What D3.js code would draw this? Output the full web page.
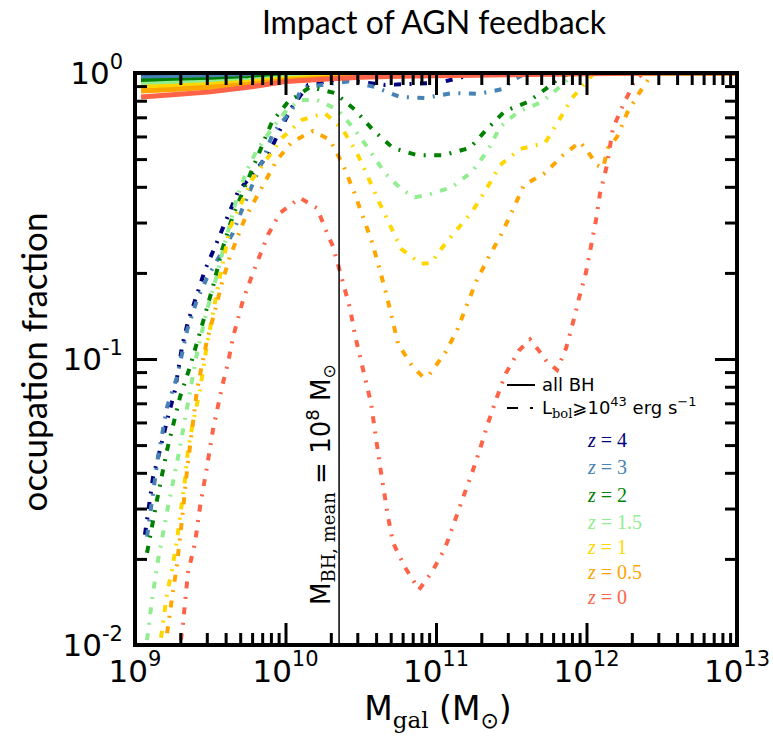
<!DOCTYPE html>
<html>
<head>
<meta charset="utf-8">
<script src="https://cdn.jsdelivr.net/npm/d3@7"></script>
<style>
  body { margin: 0; background: #fff; }
</style>
</head>
<body>
<div id="chart"></div>
<script>
// ---- data (log10 galaxy mass, occupation fraction) ----
const redshifts = ["4", "3", "2", "1.5", "1", "0.5", "0"];
const seriesColors = ["navy", "steelblue", "green", "lightgreen", "gold", "orange", "tomato"];

// all BH (solid lines)
const allMassLog = [9.04, 9.25, 9.5, 9.75, 10.0, 10.25, 10.5, 10.75, 11.0, 11.5, 12.0, 12.5, 13.0];
const allZ4  = [0.977, 0.979, 0.982, 0.984, 0.989, 0.991, 0.993, 0.995, 0.998, 1, 1, 1, 1];
const allZ3  = [0.962, 0.964, 0.968, 0.973, 0.982, 0.986, 0.991, 0.993, 0.995, 0.998, 1, 1, 1];
const allZ2  = [0.938, 0.942, 0.948, 0.957, 0.973, 0.982, 0.986, 0.991, 0.993, 0.995, 0.998, 1, 1];
const allZ15 = [0.912, 0.920, 0.929, 0.942, 0.964, 0.975, 0.982, 0.989, 0.991, 0.995, 0.998, 1, 1];
const allZ1  = [0.891, 0.899, 0.912, 0.929, 0.955, 0.968, 0.977, 0.984, 0.989, 0.993, 0.998, 1, 1];
const allZ05 = [0.865, 0.875, 0.891, 0.912, 0.944, 0.959, 0.973, 0.979, 0.984, 0.991, 0.995, 1, 1];
const allZ0  = [0.824, 0.839, 0.859, 0.891, 0.933, 0.951, 0.966, 0.975, 0.979, 0.986, 0.993, 1, 1];

// Lbol >= 1e43 erg/s (dash-dot lines)
const agnMassZ4 = [9.066, 9.120, 9.166, 9.219, 9.266, 9.312, 9.352, 9.412, 9.465, 9.532, 9.684, 9.884, 9.963, 10.043, 10.150, 10.329, 10.495, 10.661, 10.841, 11.013, 11.159, 11.259];
const agnFracZ4 = [0.0243, 0.0386, 0.0481, 0.0627, 0.0780, 0.110, 0.135, 0.168, 0.205, 0.247, 0.384, 0.516, 0.632, 0.760, 0.908, 0.946, 0.931, 0.908, 0.916, 0.923, 0.962, 1.0];

const agnMassZ3 = [9.080, 9.153, 9.213, 9.279, 9.346, 9.412, 9.478, 9.651, 9.718, 9.850, 9.917, 10.043, 10.096, 10.143, 10.429, 10.595, 10.761, 10.927, 11.106, 11.279, 11.445, 11.512, 11.6];
const agnFracZ3 = [0.0239, 0.0454, 0.0679, 0.0865, 0.126, 0.161, 0.192, 0.276, 0.340, 0.497, 0.617, 0.743, 0.859, 0.893, 0.937, 0.893, 0.824, 0.818, 0.851, 0.845, 0.879, 0.946, 1.0];

const agnMassZ2 = [9.080, 9.146, 9.213, 9.299, 9.365, 9.452, 9.518, 9.578, 9.651, 9.777, 9.910, 10.017, 10.163, 10.329, 10.462, 10.581, 10.714, 10.874, 11.047, 11.226, 11.339, 11.458, 11.611, 11.757, 11.824, 11.9];
const agnFracZ2 = [0.0210, 0.0321, 0.0481, 0.0736, 0.0938, 0.135, 0.179, 0.240, 0.318, 0.458, 0.675, 0.792, 0.893, 0.851, 0.743, 0.632, 0.547, 0.516, 0.516, 0.547, 0.637, 0.736, 0.792, 0.902, 0.968, 1.0];

const agnMassZ15 = [9.080, 9.113, 9.153, 9.219, 9.286, 9.352, 9.412, 9.478, 9.532, 9.585, 9.678, 9.744, 9.811, 9.917, 10.010, 10.096, 10.209, 10.349, 10.462, 10.548, 10.661, 10.774, 10.860, 10.940, 11.106, 11.239, 11.346, 11.425, 11.545, 11.704, 11.837, 11.92];
const agnFracZ15 = [0.0104, 0.0144, 0.0198, 0.0304, 0.0454, 0.0702, 0.105, 0.148, 0.186, 0.240, 0.368, 0.458, 0.538, 0.647, 0.743, 0.805, 0.805, 0.743, 0.632, 0.547, 0.447, 0.390, 0.368, 0.374, 0.399, 0.451, 0.538, 0.647, 0.731, 0.792, 0.908, 1.0];

const agnMassZ1 = [9.173, 9.213, 9.246, 9.279, 9.332, 9.352, 9.385, 9.432, 9.478, 9.565, 9.631, 9.777, 9.977, 10.110, 10.262, 10.382, 10.475, 10.548, 10.621, 10.694, 10.767, 10.900, 10.973, 11.013, 11.126, 11.239, 11.339, 11.425, 11.558, 11.724, 11.811, 11.904, 11.970, 12.05];
const agnFracZ1 = [0.0106, 0.0152, 0.0183, 0.0233, 0.0378, 0.0481, 0.0597, 0.0780, 0.112, 0.195, 0.287, 0.423, 0.593, 0.686, 0.724, 0.632, 0.525, 0.433, 0.354, 0.294, 0.243, 0.215, 0.217, 0.235, 0.278, 0.327, 0.396, 0.476, 0.542, 0.569, 0.675, 0.818, 0.893, 1.0];

const agnMassZ05 = [9.213, 9.246, 9.279, 9.312, 9.346, 9.379, 9.412, 9.478, 9.532, 9.578, 9.631, 9.731, 9.844, 9.944, 10.043, 10.183, 10.296, 10.389, 10.455, 10.515, 10.575, 10.621, 10.668, 10.708, 10.748, 10.841, 10.914, 10.953, 11.060, 11.140, 11.206, 11.272, 11.352, 11.439, 11.512, 11.585, 11.724, 11.844, 11.957, 12.010, 12.070, 12.110, 12.143, 12.203, 12.269, 12.355, 12.409, 12.47];
const agnFracZ05 = [0.0110, 0.0146, 0.0191, 0.0274, 0.0409, 0.0565, 0.0780, 0.116, 0.148, 0.185, 0.228, 0.311, 0.399, 0.497, 0.574, 0.627, 0.583, 0.469, 0.384, 0.314, 0.256, 0.210, 0.170, 0.139, 0.113, 0.0946, 0.0865, 0.0879, 0.105, 0.126, 0.155, 0.189, 0.228, 0.276, 0.334, 0.406, 0.447, 0.516, 0.574, 0.530, 0.476, 0.466, 0.547, 0.597, 0.724, 0.859, 0.946, 1.0];

const agnMassZ0 = [9.305, 9.319, 9.352, 9.399, 9.432, 9.478, 9.518, 9.578, 9.618, 9.651, 9.718, 9.784, 9.884, 9.963, 10.096, 10.209, 10.276, 10.316, 10.382, 10.429, 10.462, 10.502, 10.568, 10.601, 10.628, 10.681, 10.714, 10.794, 10.887, 10.973, 11.060, 11.120, 11.179, 11.239, 11.292, 11.346, 11.405, 11.465, 11.551, 11.625, 11.684, 11.738, 11.804, 11.864, 11.910, 11.950, 11.997, 12.030, 12.063, 12.090, 12.136, 12.176, 12.209, 12.243, 12.282, 12.322, 12.38];
const agnFracZ0 = [0.0104, 0.0119, 0.0179, 0.0228, 0.0304, 0.0419, 0.0565, 0.0798, 0.0968, 0.119, 0.161, 0.200, 0.272, 0.324, 0.366, 0.337, 0.276, 0.247, 0.185, 0.150, 0.121, 0.0984, 0.0702, 0.0530, 0.0423, 0.0281, 0.0228, 0.0187, 0.0156, 0.0180, 0.0218, 0.0267, 0.0327, 0.0399, 0.0484, 0.0597, 0.0736, 0.0893, 0.107, 0.117, 0.107, 0.0977, 0.0916, 0.109, 0.134, 0.163, 0.201, 0.248, 0.306, 0.380, 0.476, 0.643, 0.702, 0.773, 0.851, 0.946, 1.0];

// mean BH mass of 1e8 Msun marker
const mbhMeanGalMass = 2.27e10;

// axis ticks
const xMajorTicks = [1e9, 1e10, 1e11, 1e12, 1e13];
const xTickExp = ["9", "10", "11", "12", "13"];
const yMajorTicks = [1e-2, 1e-1, 1];
const yTickExp = ["-2", "-1", "0"];

const allSeries = [allZ4, allZ3, allZ2, allZ15, allZ1, allZ05, allZ0];
const agnMass = [agnMassZ4, agnMassZ3, agnMassZ2, agnMassZ15, agnMassZ1, agnMassZ05, agnMassZ0];
const agnFrac = [agnFracZ4, agnFracZ3, agnFracZ2, agnFracZ15, agnFracZ1, agnFracZ05, agnFracZ0];

// ---- layout ----
const width = 773, height = 736;
const margin = {top: 73, right: 36, bottom: 91, left: 135};
const plotW = width - margin.left - margin.right;
const plotH = height - margin.top - margin.bottom;

const x = d3.scaleLog().domain([1e9, 1e13]).range([margin.left, margin.left + plotW]);
const y = d3.scaleLog().domain([1e-2, 1]).range([margin.top + plotH, margin.top]);

const svg = d3.select("#chart").append("svg")
    .attr("width", width)
    .attr("height", height);

svg.append("clipPath").attr("id", "clip")
    .append("rect")
    .attr("x", margin.left).attr("y", margin.top)
    .attr("width", plotW).attr("height", plotH);

const plot = svg.append("g").attr("clip-path", "url(#clip)");

const line = d3.line()
    .x(d => x(Math.pow(10, d[0])))
    .y(d => y(d[1]));

// dash-dot curves
agnMass.forEach((m, i) => {
    plot.append("path")
        .datum(d3.zip(m, agnFrac[i]))
        .attr("fill", "none")
        .attr("stroke", seriesColors[i])
        .attr("stroke-width", 4)
        .attr("stroke-dasharray", "7 8.5 2 8.5")
        .attr("d", line);
});

// solid curves (all BH)
allSeries.forEach((s, i) => {
    plot.append("path")
        .datum(d3.zip(allMassLog, s))
        .attr("fill", "none")
        .attr("stroke", seriesColors[i])
        .attr("stroke-width", 5)
        .attr("d", line);
});

// vertical marker line
svg.append("line")
    .attr("x1", x(mbhMeanGalMass)).attr("x2", x(mbhMeanGalMass))
    .attr("y1", margin.top).attr("y2", margin.top + plotH)
    .attr("stroke", "black")
    .attr("stroke-width", 1.5);

// ---- ticks (inward, all four sides) ----
const xMinor = [], yMinor = [];
for (let e = 9; e < 13; e++) for (let k = 2; k < 10; k++) xMinor.push(k * Math.pow(10, e));
for (let e = -2; e < 0; e++) for (let k = 2; k < 10; k++) yMinor.push(k * Math.pow(10, e));

function drawAxis(axis, tx, ty) {
    const g = svg.append("g")
        .attr("transform", `translate(${tx},${ty})`)
        .call(axis.tickFormat(""));
    g.select(".domain").remove();
    g.selectAll("line").attr("stroke", "black").attr("stroke-width", 3);
}

const bottomY = margin.top + plotH, rightX = margin.left + plotW;
[[xMinor, 12], [xMajorTicks, 22]].forEach(([vals, len]) => {
    drawAxis(d3.axisBottom(x).tickValues(vals).tickSize(-len), 0, bottomY);
    drawAxis(d3.axisTop(x).tickValues(vals).tickSize(-len), 0, margin.top);
});
[[yMinor, 12], [yMajorTicks, 22]].forEach(([vals, len]) => {
    drawAxis(d3.axisLeft(y).tickValues(vals).tickSize(-len), margin.left, 0);
    drawAxis(d3.axisRight(y).tickValues(vals).tickSize(-len), rightX, 0);
});

// frame
svg.append("rect")
    .attr("x", margin.left).attr("y", margin.top)
    .attr("width", plotW).attr("height", plotH)
    .attr("fill", "none")
    .attr("stroke", "black")
    .attr("stroke-width", 4);

// ---- tick labels ----
const tickFont = "DejaVu Sans";
xMajorTicks.forEach((v, i) => {
    const t = svg.append("text")
        .attr("x", x(v)).attr("y", bottomY + 37)
        .attr("text-anchor", "middle")
        .style("font-family", tickFont)
        .style("font-size", "31px");
    t.append("tspan").text("10");
    t.append("tspan").attr("dy", -16).style("font-size", "21px").text(xTickExp[i]);
});
yMajorTicks.forEach((v, i) => {
    const t = svg.append("text")
        .attr("x", margin.left - 12).attr("y", y(v) + 11)
        .attr("text-anchor", "end")
        .style("font-family", tickFont)
        .style("font-size", "31px");
    t.append("tspan").text("10");
    t.append("tspan").attr("dy", -15).style("font-size", "21px").text(yTickExp[i]);
});

// ---- titles ----
svg.append("text")
    .attr("x", 434).attr("y", 34)
    .attr("text-anchor", "middle")
    .style("font-family", "Lato")
    .style("font-size", "32px")
    .text("Impact of AGN feedback");

svg.append("text")
    .attr("transform", "translate(47,362) rotate(-90)")
    .attr("text-anchor", "middle")
    .style("font-family", "Lato")
    .style("font-size", "35px")
    .text("occupation fraction");

const xl = svg.append("text")
    .attr("x", 438).attr("y", 720)
    .attr("text-anchor", "middle")
    .style("font-family", tickFont)
    .style("font-size", "33px");
xl.append("tspan").text("M");
xl.append("tspan").attr("dy", 8).style("font-family", "DejaVu Serif").style("font-size", "23px").text("gal");
xl.append("tspan").attr("dy", -8).text(" (M");
xl.append("tspan").attr("dy", 8).style("font-size", "22px").text("\u2299");
xl.append("tspan").attr("dy", -8).text(")");

// rotated marker label
const ml = svg.append("text")
    .attr("transform", `translate(${x(mbhMeanGalMass) - 9},605) rotate(-90)`)
    .style("font-family", tickFont)
    .style("font-size", "26px");
ml.append("tspan").text("M");
ml.append("tspan").attr("dy", 5).style("font-family", "DejaVu Serif").style("font-size", "18px").text("BH, mean");
ml.append("tspan").attr("dy", -5).text(" = 10");
ml.append("tspan").attr("dy", -11).style("font-size", "18px").text("8");
ml.append("tspan").attr("dy", 11).text(" M");
ml.append("tspan").attr("dy", 5).style("font-size", "17px").text("\u2299");

// ---- legend ----
const legX = 507;
svg.append("line")
    .attr("x1", legX).attr("x2", legX + 28).attr("y1", 385).attr("y2", 385)
    .attr("stroke", "black").attr("stroke-width", 2);
svg.append("text")
    .attr("x", legX + 35).attr("y", 391)
    .style("font-family", tickFont).style("font-size", "18px")
    .text("all BH");
svg.append("line")
    .attr("x1", legX).attr("x2", legX + 28).attr("y1", 408).attr("y2", 408)
    .attr("stroke", "black").attr("stroke-width", 2)
    .attr("stroke-dasharray", "11 12 3 40");
const lb = svg.append("text")
    .attr("x", legX + 35).attr("y", 414)
    .style("font-family", tickFont).style("font-size", "18px");
lb.append("tspan").text("L");
lb.append("tspan").attr("dy", 4).style("font-family", "DejaVu Serif").style("font-size", "13px").text("bol");
lb.append("tspan").attr("dy", -4).text("\u2A7E10");
lb.append("tspan").attr("dy", -8).style("font-size", "13px").text("43");
lb.append("tspan").attr("dy", 8).text(" erg s");
lb.append("tspan").attr("dy", -8).style("font-size", "13px").text("\u22121");

const zBaselines = [447, 474, 502, 529, 554, 579, 604];
redshifts.forEach((z, i) => {
    const t = svg.append("text")
        .attr("x", 588).attr("y", zBaselines[i])
        .style("font-family", "Liberation Serif")
        .style("font-size", "20px")
        .attr("fill", seriesColors[i]);
    t.append("tspan").style("font-style", "italic").text("z");
    t.append("tspan").text(" = " + z);
});
</script>
</body>
</html>
